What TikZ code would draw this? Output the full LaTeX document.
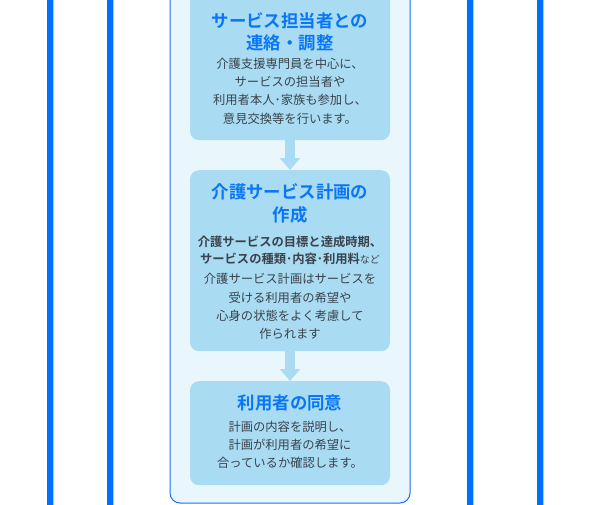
\documentclass[tikz,border=0pt]{standalone}
\usepackage{fontspec}
\setmainfont{Noto Sans CJK JP}[BoldFont={Noto Sans CJK JP Bold}]
\usetikzlibrary{arrows.meta}
\definecolor{barblue}{HTML}{0070FF}
\definecolor{barlight}{HTML}{A8CCFF}
\definecolor{panelfill}{HTML}{E9F6FC}
\definecolor{panelline}{HTML}{1C6EFF}
\definecolor{boxfill}{HTML}{A9DCF3}
\definecolor{titleblue}{HTML}{0A76F5}
\definecolor{bodygray}{HTML}{3A424C}
\tikzset{
  bar/.style={fill=barblue, draw=none},
  barlightline/.style={draw=barlight, line width=1pt},
  panel/.style={fill=panelfill, draw=panelline, line width=1pt, rounded corners=10pt},
  stepbox/.style={fill=boxfill, draw=none, rounded corners=9pt, minimum width=200pt, inner sep=0pt, anchor=north},
  ttl/.style={text=titleblue, font=\bfseries\fontsize{17.4}{22.5}\selectfont, align=center, inner sep=0pt},
  bodytxt/.style={text=bodygray, font=\fontsize{12.3}{18.3}\selectfont, align=center, inner sep=0pt},
  boldtxt/.style={text=bodygray, font=\bfseries\fontsize{12.3}{17.5}\selectfont, align=center, inner sep=0pt},
  flow/.style={draw=boxfill, line width=10pt, -{Triangle[width=20pt,length=12pt]}, shorten >=0pt}
}
\begin{document}
\begin{tikzpicture}[x=1pt,y=-1pt]
\useasboundingbox (0,0) rectangle (600,504);
\fill[white] (0,0) rectangle (600,504);
% vertical bars
\foreach \xx in {47,107,467,537}{
  \fill[bar] (\xx,-2) rectangle ({\xx+6},506);
  \draw[barlightline] ({\xx+6.5},-2) -- ({\xx+6.5},506);
}
% panel
\draw[panel] (170,-20) rectangle (410,503);
% boxes
\node[stepbox, minimum height=150pt] (b1) at (290,-10) {};
\node[stepbox, minimum height=181pt] (b2) at (290,170) {};
\node[stepbox, minimum height=104pt] (b3) at (290,381) {};
% arrows
\draw[flow] (b1.south) -- (b2.north);
\draw[flow] (b2.south) -- (b3.north);
% box 1 text
\node[ttl] (t1) at (290,32) {サービス担当者との\\連絡・調整};
\node[bodytxt] (d1) at (290,91) {介護支援専門員を中心に、\\サービスの担当者や\\利用者本人･家族も参加し、\\意見交換等を行います。};
% box 2 text
\node[ttl] (t2) at (290,203.5) {介護サービス計画の\\作成};
\node[boldtxt] (k2) at (290,250.5) {介護サービスの目標と達成時期、\\サービスの種類･内容･利用料{\mdseries\fontsize{10}{12}\selectfont など}};
\node[bodytxt] (d2) at (290,306.5) {介護サービス計画はサービスを\\受ける利用者の希望や\\心身の状態をよく考慮して\\作られます};
% box 3 text
\node[ttl] (t3) at (290,402.5) {利用者の同意};
\node[bodytxt] (d3) at (290,445) {計画の内容を説明し、\\計画が利用者の希望に\\合っているか確認します。};
\end{tikzpicture}
\end{document}
